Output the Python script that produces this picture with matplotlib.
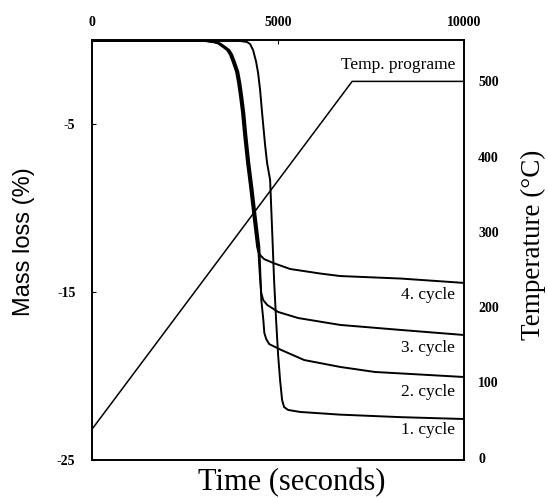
import matplotlib
matplotlib.use("Agg")
import matplotlib.pyplot as plt

plt.rcParams["font.family"] = ["Liberation Serif", "DejaVu Serif"]
plt.rcParams["axes.unicode_minus"] = False

# mass loss curves (time in s, mass loss in %)
t_c1 = [0, 3978, 4166, 4247, 4328, 4409, 4462, 4516, 4570, 4650, 4704, 4785, 4839, 4892,
        4946, 5000, 5053, 5107, 5161, 5268, 5591, 6666, 8300, 10000]
m_c1 = [-0.06, -0.06, -0.12, -0.24, -0.6, -1.3, -1.96, -2.98, -4.35, -6.25, -7.32, -8.33, -11.3, -14.3,
        -16.67, -18.75, -20.24, -21.43, -21.85, -22.02, -22.14, -22.3, -22.45, -22.56]

t_c4 = [0, 3037, 3253, 3387, 3521, 3629, 3709, 3790, 3871, 3925, 3978, 4032, 4086, 4166, 4247,
        4328, 4381, 4435, 4462, 4516, 4623, 4865, 5322, 6129, 6666, 8300, 10000]
m_c4 = [-0.06, -0.06, -0.12, -0.21, -0.42, -0.6, -0.89, -1.37, -1.9, -2.56, -3.39, -4.35, -5.65, -7.32, -8.75,
        -10.3, -11.3, -12.3, -12.56, -12.8, -13.04, -13.27, -13.63, -13.9, -14.05, -14.2, -14.46]

t_c3 = [0, 3067, 3283, 3417, 3551, 3659, 3739, 3820, 3901, 3955, 4008, 4062, 4116, 4196, 4277,
        4358, 4411, 4465, 4492, 4519, 4546, 4600, 4707, 5003, 5540, 6666, 8300, 10000]
m_c3 = [-0.06, -0.06, -0.12, -0.21, -0.42, -0.6, -0.89, -1.37, -1.9, -2.56, -3.39, -4.35, -5.65, -7.32, -8.75,
        -10.3, -11.3, -12.3, -13.4, -14.3, -15.06, -15.48, -15.77, -16.19, -16.55, -16.96, -17.26, -17.56]

t_c2 = [0, 3097, 3313, 3447, 3581, 3689, 3769, 3850, 3931, 3985, 4038, 4092, 4146, 4226, 4307,
        4388, 4441, 4495, 4549, 4603, 4630, 4680, 4761, 5083, 5702, 6666, 7600, 10000]
m_c2 = [-0.06, -0.06, -0.12, -0.21, -0.42, -0.6, -0.89, -1.37, -1.9, -2.56, -3.39, -4.35, -5.65, -7.32, -8.75,
        -10.3, -11.3, -12.3, -15.48, -16.67, -17.44, -17.8, -18.1, -18.45, -19.05, -19.46, -19.76, -20.06]

# temperature programme
t_temp = [0, 6990, 10000]
temp = [38, 500, 500]

labels = ["1. cycle", "2. cycle", "3. cycle", "4. cycle"]
label_y = [-23.2, -20.95, -18.33, -15.18]

fig = plt.figure(figsize=(5.48, 4.98), dpi=100)
ax = fig.add_axes([0.168, 0.0763, 0.679, 0.8434])

for t, m in [(t_c1, m_c1), (t_c2, m_c2), (t_c3, m_c3), (t_c4, m_c4)]:
    ax.plot(t, m, color="black", lw=1.4)

for lab, yy in zip(labels, label_y):
    ax.text(9760, yy, lab, ha="right", va="center", fontsize=12.5)
ax.text(9760, -1.49, "Temp. programe", ha="right", va="center", fontsize=12.5)

ax.set_xlim(0, 10000)
ax.set_ylim(-25, 0)
ax.xaxis.tick_top()
ax.set_xticks([0, 5000, 10000])
ax.set_yticks([-5, -15, -25])
ax.tick_params(axis="x", direction="in", length=3, labelsize=10, pad=8)
ax.tick_params(axis="y", direction="in", length=3, labelsize=10, pad=12)
for lab in ax.get_xticklabels() + ax.get_yticklabels():
    lab.set_fontweight("bold")
ax.set_xlabel("Time (seconds)", fontsize=22, va="top")
ax.xaxis.set_label_coords(0.538, -0.02)
ax.set_ylabel("Mass loss (%)", fontsize=17, family=["Liberation Sans", "DejaVu Sans"], va="center")
ax.yaxis.set_label_coords(-0.182, 0.519)

ax2 = ax.twinx()
ax2.plot(t_temp, temp, color="black", lw=1.1)
ax2.set_ylim(-3, 555)
ax2.set_yticks([0, 100, 200, 300, 400, 500])
ax2.tick_params(axis="y", direction="in", length=0, labelsize=10, pad=10)
for lab in ax2.get_yticklabels():
    lab.set_fontweight("bold")
ax2.set_ylabel("Temperature (\u00b0C)", fontsize=19.5, va="center")
ax2.yaxis.set_label_coords(1.186, 0.512)

for a in (ax, ax2):
    for s in a.spines.values():
        s.set_linewidth(1.2)

fig.savefig("out.png", dpi=100)
